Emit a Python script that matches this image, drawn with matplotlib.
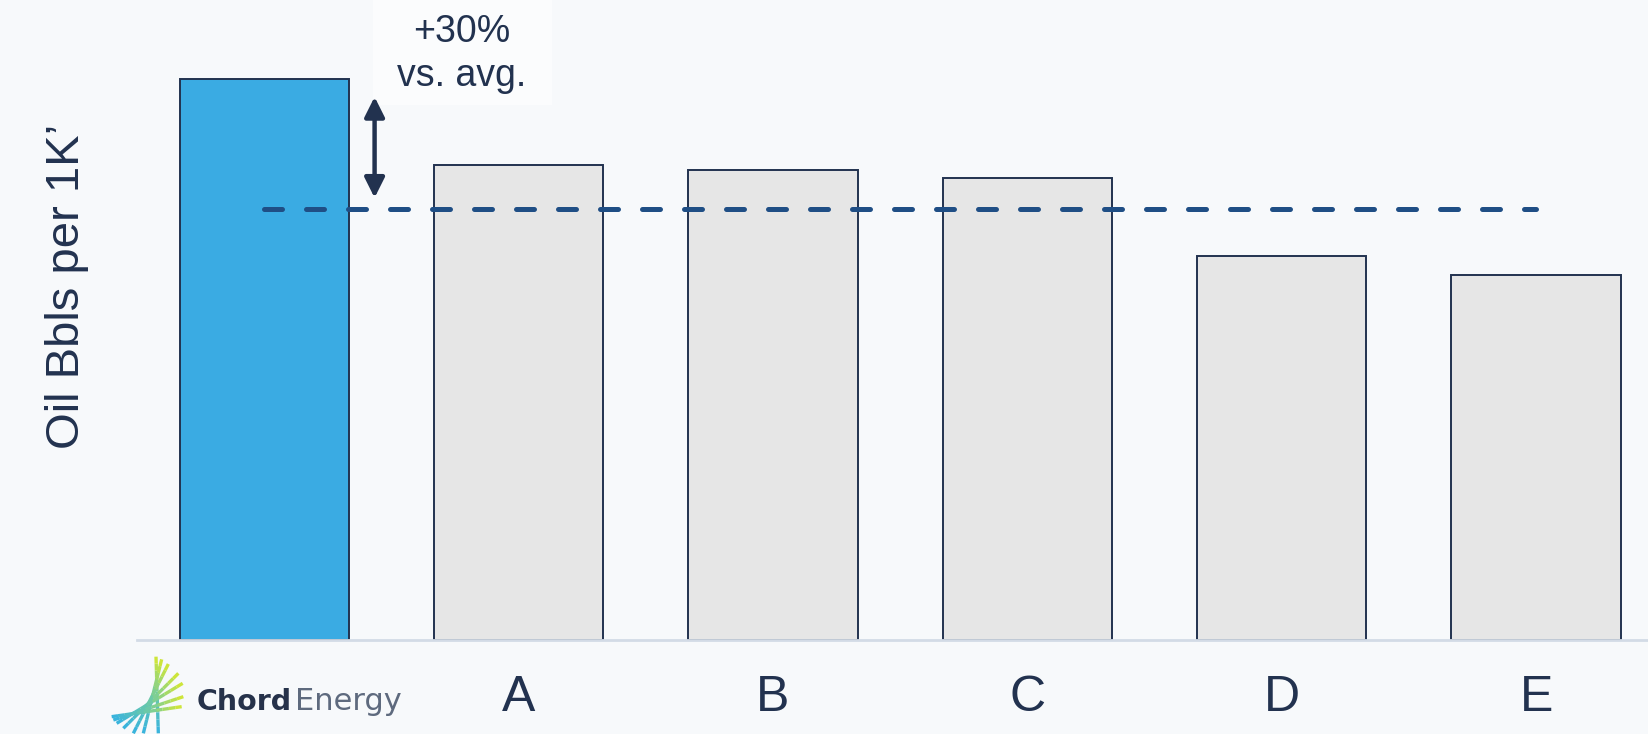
import numpy as np
import matplotlib.pyplot as plt
from matplotlib.collections import LineCollection
from matplotlib.colors import LinearSegmentedColormap
from matplotlib.patches import Rectangle

plt.rcParams['font.family'] = ['Liberation Sans', 'DejaVu Sans']

# oil bbls per 1K' lateral, Chord vs. peers (relative units)
names = ['Chord Energy', 'A', 'B', 'C', 'D', 'E']
oil = [53.4, 45.2, 44.7, 44.0, 36.5, 34.7]
peer_avg = np.mean(oil[1:])
uplift = oil[0] / peer_avg - 1

navy = '#22324f'
bg = '#f7f9fb'
W, H = 1648, 734

fig = plt.figure(figsize=(W/100, H/100), dpi=100, facecolor=bg)
ax = fig.add_axes([137/W, 94/H, 1 - 137/W, 640/H], facecolor=bg)
ax.set_clip_on(False)

x = np.arange(len(names))
colors = ['#3aabe3'] + ['#e6e6e6'] * (len(names) - 1)
ax.bar(x, oil, width=0.665, color=colors, edgecolor=navy, linewidth=1.4, zorder=2)

# peer average line
ax.plot([x[0], x[-1]], [peer_avg, peer_avg], color='#1f4e85', lw=3.6,
        dashes=(3.6, 4.8), dash_capstyle='round', zorder=3)

# label box behind the arrow text
box = Rectangle((373/W, 1 - 105/H), 179/W, 105/H, transform=fig.transFigure,
                fc='#fbfcfd', ec='none', zorder=0.5)
box.set_clip_on(False)
ax.add_patch(box)

# arrow from average up to Chord
ax.annotate('', xy=(0.434, oil[0]), xytext=(0.434, peer_avg),
            arrowprops=dict(arrowstyle='<|-|>', color=navy, lw=3.2,
                            mutation_scale=30, shrinkA=8, shrinkB=13), zorder=4)

fig.text(462/W, 1 - 42/H, '+%d%%' % round(uplift * 100), ha='center', va='baseline',
         fontsize=27, color=navy)
fig.text(462/W, 1 - 86/H, 'vs. avg.', ha='center', va='baseline',
         fontsize=27, color=navy)

ax.set_xlim(-0.5, 5.44)
ax.set_ylim(0, 60.9)
ax.set_yticks([])
ax.set_xticks(x[1:])
ax.set_xticklabels(names[1:], fontsize=36, color=navy)
ax.tick_params(axis='x', length=0, pad=25)
for s in ['top', 'right', 'left']:
    ax.spines[s].set_visible(False)
ax.spines['bottom'].set_color('#d3dbe6')
ax.spines['bottom'].set_linewidth(2)
fig.text(67/W, 1 - 286/H, "Oil Bbls per 1K\u2019", rotation=90, ha='center', va='center',
         fontsize=34, color=navy)

# company logo in place of the first tick label
tops = [(168, 20), (185, 28), (205, 42), (235, 70), (248, 100), (250, 140), (245, 170)]
bots = [(175, 250), (130, 250), (100, 250), (70, 235), (50, 220), (40, 210), (35, 200)]
cmap = LinearSegmentedColormap.from_list('logo', ['#3ab4dc', '#6cc9a8', '#cde53a'])
segs, cols = [], []
for (tx, ty), (bx, by) in zip(tops, bots):
    px = 100 + np.linspace(bx, tx, 12) / 3
    py = 650 + np.linspace(by, ty, 12) / 3
    fx, fy = px / W, 1 - py / H
    for i in range(len(fx) - 1):
        segs.append([(fx[i], fy[i]), (fx[i + 1], fy[i + 1])])
        cols.append(cmap(i / (len(fx) - 2)))
fig.add_artist(LineCollection(segs, colors=cols, linewidths=2.4,
                              transform=fig.transFigure))
fig.text(197/W, 1 - 710/H, 'Chord', fontsize=20.5, fontweight='bold',
         color='#26324a', family='DejaVu Sans', va='baseline')
fig.text(295/W, 1 - 710/H, 'Energy', fontsize=22, color='#5e6a7e',
         family='DejaVu Sans', va='baseline')

fig.savefig('out.png', dpi=100, facecolor=bg)
